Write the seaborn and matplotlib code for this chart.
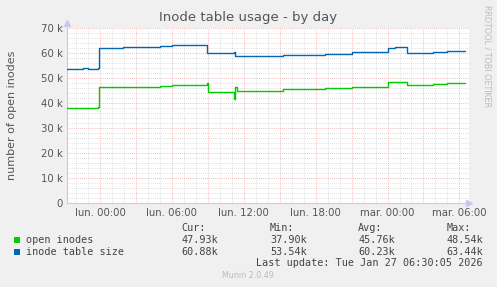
import numpy as np
import pandas as pd
import matplotlib
matplotlib.use("Agg")
import matplotlib.pyplot as plt
import seaborn as sns
from matplotlib.patches import Rectangle

# ---- data (hours relative to Monday 00:00, values in inodes) ----
blue_hours = [-2.78, -1.6, -1.4, -1.0, -0.15, -0.05, 1.9, 5.0, 6.0, 8.75, 8.97,
              11.2, 11.3, 15.3, 18.8, 21.0, 23.5, 24.0, 24.6, 25.5, 25.6, 26.1,
              27.8, 29.0, 30.5]
blue_values = [53540, 53600, 54000, 53800, 54000, 62000, 62300, 62700, 63200, 63440, 60200,
               60300, 58700, 59300, 59700, 60300, 60600, 62000, 62400, 62500, 60000, 60200,
               60600, 60880, 60880]
green_hours = [-2.78, -1.6, -1.4, -0.15, -0.05, 1.9, 5.0, 6.0, 8.9, 9.0, 11.1, 11.2,
               11.25, 11.4, 12.0, 15.3, 18.8, 21.0, 23.5, 24.0, 25.5, 25.6, 26.1,
               27.8, 29.0, 30.5]
green_values = [37900, 37900, 38200, 38300, 46300, 46600, 47000, 47300, 47900, 44300, 44500, 41600,
                46600, 44800, 45000, 45600, 46000, 46300, 46600, 48300, 48540, 47300, 47400,
                47600, 47930, 47930]

series_names = ["open inodes", "inode table size"]
series_colors = ["#00CC00", "#0066B3"]
tick_hours = [0, 6, 12, 18, 24, 30]
tick_labels = ["lun. 00:00", "lun. 06:00", "lun. 12:00", "lun. 18:00", "mar. 00:00", "mar. 06:00"]
y_ticks = [0, 10000, 20000, 30000, 40000, 50000, 60000, 70000]
y_tick_labels = ["0", "10 k", "20 k", "30 k", "40 k", "50 k", "60 k", "70 k"]
stat_headers = ["Cur:", "Min:", "Avg:", "Max:"]
stats_green = ["47.93k", "37.90k", "45.76k", "48.54k"]
stats_blue = ["60.88k", "53.54k", "60.23k", "63.44k"]

df = pd.concat([
    pd.DataFrame({"hour": green_hours, "value": green_values, "series": series_names[0]}),
    pd.DataFrame({"hour": blue_hours, "value": blue_values, "series": series_names[1]}),
])

sns.set_style("white")
plt.rcParams["font.family"] = ["DejaVu Sans"]

W, H = 497, 287
fig = plt.figure(figsize=(W / 100, H / 100), dpi=100, facecolor="#F0F0F0")
ax = fig.add_axes([66.7 / W, (H - 202.7) / H, (469 - 66.7) / W, (202.7 - 28.3) / H])
ax.set_facecolor("white")

# grid
minor_c = "#d6d6d6"
major_c = "#e8a8a8"
ls = (0, (1, 1.5))
for yv in np.arange(0, 70001, 2000):
    if yv % 10000 == 0:
        continue
    ax.axhline(yv, color=minor_c, lw=0.6, ls=ls, zorder=0)
for xv in np.arange(-2, 31, 1):
    if xv % 3 == 0:
        continue
    ax.axvline(xv, color=minor_c, lw=0.6, ls=ls, zorder=0)
for yv in y_ticks[1:]:
    ax.axhline(yv, color=major_c, lw=0.6, ls=ls, zorder=0.5)
for xv in range(0, 31, 3):
    ax.axvline(xv, color=major_c, lw=0.6, ls=ls, zorder=0.5)

sns.lineplot(data=df, x="hour", y="value", hue="series", palette=series_colors,
             hue_order=series_names, drawstyle="steps-post", linewidth=1.0,
             legend=False, ax=ax, sort=False, zorder=3)

ax.set_xlim(-2.78, 30.8)
ax.set_ylim(0, 70000)
ax.set_xticks(tick_hours)
ax.set_xticklabels(tick_labels)
ax.set_yticks(y_ticks)
ax.set_yticklabels(y_tick_labels)
ax.tick_params(axis="both", length=0, labelsize=7.3, colors="#555555", pad=3)
ax.tick_params(axis="x", pad=4)
ax.set_xlabel("")
ax.set_ylabel("number of open inodes", fontsize=8, color="#555555", labelpad=17)
for s in ["top", "right"]:
    ax.spines[s].set_visible(False)
for s in ["left", "bottom"]:
    ax.spines[s].set_color("#c8c8f0")
    ax.spines[s].set_linewidth(0.8)
ax.plot([1.0], [0], marker=">", color="#c8c8f0", markersize=5, transform=ax.transAxes, clip_on=False)
ax.plot([0], [1.03], marker="^", color="#c8c8f0", markersize=5, transform=ax.transAxes, clip_on=False)

def fx(px):
    return px / W

def fy(py):
    return 1 - py / H

fig.text(fx(248), fy(18), "Inode table usage - by day", ha="center", va="center",
         fontsize=9.5, color="#555555")
fig.text(fx(487), fy(5), "RRDTOOL / TOBI OETIKER", rotation=270, ha="center", va="top",
         fontsize=5.8, color="#bbbbbb")

mono = "DejaVu Sans Mono"
lc = "#444444"
fs = 7.3
col_left = [181, 270, 358.3, 446.7]
for hdr, xl in zip(stat_headers, col_left):
    fig.text(fx(xl), fy(228), hdr, ha="left", va="center", family=mono, fontsize=fs, color=lc)
for row_y, name, color, stats in [(240, series_names[0], series_colors[0], stats_green),
                                   (252, series_names[1], series_colors[1], stats_blue)]:
    fig.patches.append(Rectangle((fx(14), fy(row_y + 3)), 6 / W, 6 / H, transform=fig.transFigure,
                                 facecolor=color, edgecolor="none"))
    fig.text(fx(26.3), fy(row_y), name, ha="left", va="center", family=mono, fontsize=fs, color=lc)
    for v, xl in zip(stats, col_left):
        fig.text(fx(xl), fy(row_y), v, ha="left", va="center", family=mono, fontsize=fs, color=lc)
fig.text(fx(482.3), fy(263), "Last update: Tue Jan 27 06:30:05 2026", ha="right", va="center",
         family=mono, fontsize=fs, color=lc)
fig.text(fx(222), fy(276), "Munin 2.0.49", ha="left", va="center", fontsize=5.8, color="#bbbbbb")

fig.savefig("out.png", dpi=100, facecolor=fig.get_facecolor())
